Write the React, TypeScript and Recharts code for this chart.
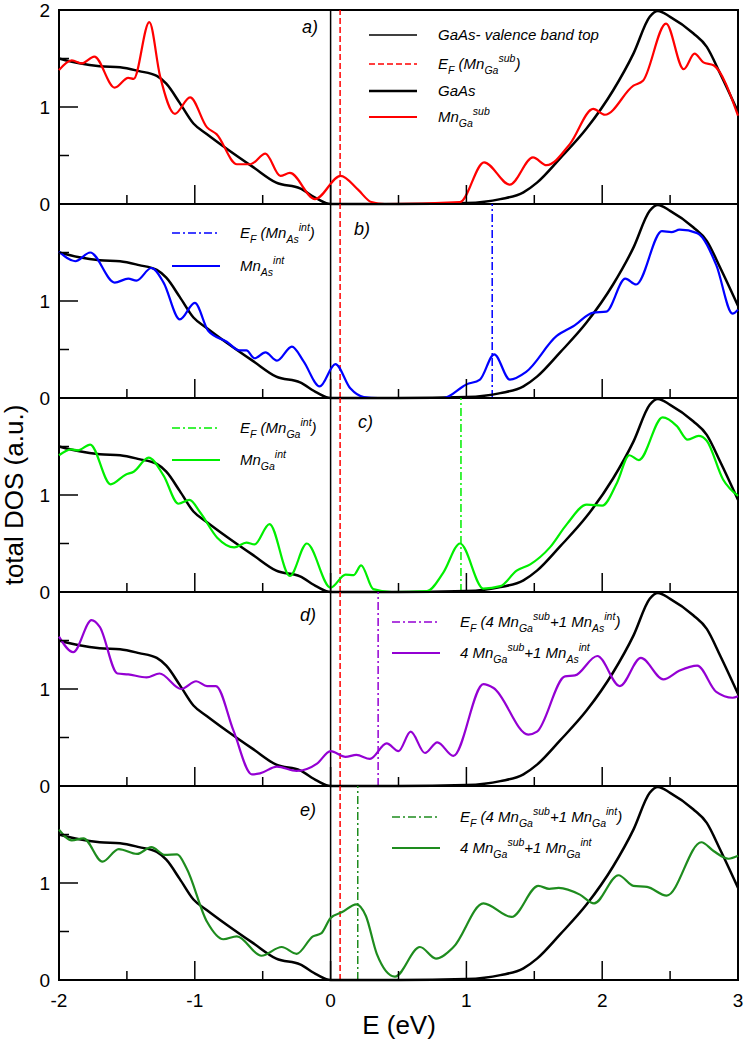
import React from 'react';
import { LineChart, Line, XAxis, YAxis, ReferenceLine, ReferenceArea } from 'recharts';

// energy grid (eV) and DOS
const gaasE = [-2.0, -1.85, -1.7, -1.55, -1.41, -1.28, -1.21, -1.11, -1.01, -0.91, -0.765, -0.57, -0.4, -0.225, -0.1, 0.0, 0.5, 1.0, 1.25, 1.42, 1.52, 1.69, 1.886, 2.08, 2.23, 2.35, 2.41, 2.5, 2.67, 2.77, 2.87, 3.0];
const gaasDos = [1.5, 1.45, 1.42, 1.41, 1.37, 1.32, 1.24, 1.04, 0.83, 0.72, 0.57, 0.38, 0.22, 0.16, 0.055, 0.0, 0.0, 0.01, 0.05, 0.12, 0.22, 0.47, 0.78, 1.17, 1.55, 1.93, 1.99, 1.93, 1.76, 1.62, 1.34, 0.95];

const mnGaSubE = [-2.0, -1.906, -1.83, -1.74, -1.59, -1.49, -1.45, -1.335, -1.256, -1.146, -1.035, -0.91, -0.84, -0.69, -0.59, -0.48, -0.37, -0.3, -0.115, 0.074, 0.2, 0.3, 0.4, 0.953, 1.13, 1.32, 1.49, 1.59, 1.763, 1.934, 2.02, 2.23, 2.3, 2.47, 2.6, 2.68, 2.745, 2.82, 3.0];
const mnGaSubDos = [1.38, 1.48, 1.45, 1.52, 1.2, 1.3, 1.29, 1.875, 1.32, 0.93, 1.1, 0.79, 0.72, 0.41, 0.41, 0.52, 0.29, 0.32, 0.05, 0.29, 0.15, 0.02, 0.0, 0.02, 0.43, 0.2, 0.48, 0.4, 0.62, 0.98, 0.92, 1.22, 1.27, 1.86, 1.39, 1.55, 1.46, 1.43, 0.91];

const mnAsIntE = [-2.0, -1.88, -1.77, -1.59, -1.49, -1.43, -1.32, -1.23, -1.11, -1.0, -0.9, -0.765, -0.67, -0.62, -0.56, -0.48, -0.395, -0.285, -0.2, -0.08, 0.035, 0.145, 0.245, 0.35, 0.83, 1.0, 1.1, 1.205, 1.32, 1.44, 1.665, 1.787, 1.934, 2.03, 2.17, 2.25, 2.44, 2.51, 2.57, 2.7, 2.84, 2.96, 3.0];
const mnAsIntDos = [1.51, 1.41, 1.5, 1.19, 1.23, 1.21, 1.34, 1.19, 0.81, 0.98, 0.69, 0.58, 0.49, 0.49, 0.41, 0.47, 0.385, 0.53, 0.38, 0.12, 0.35, 0.1, 0.01, 0.0, 0.0, 0.14, 0.19, 0.45, 0.19, 0.27, 0.64, 0.74, 0.88, 0.89, 1.23, 1.17, 1.72, 1.71, 1.735, 1.7, 1.37, 0.87, 0.91];

const mnGaIntE = [-2.0, -1.91, -1.86, -1.77, -1.62, -1.51, -1.45, -1.34, -1.23, -1.12, -1.04, -0.96, -0.835, -0.71, -0.62, -0.56, -0.45, -0.3, -0.175, 0.0, 0.11, 0.17, 0.225, 0.314, 0.45, 0.71, 0.83, 0.953, 1.125, 1.25, 1.37, 1.47, 1.615, 1.74, 1.886, 2.0, 2.11, 2.2, 2.27, 2.445, 2.55, 2.63, 2.71, 2.77, 2.89, 3.0];
const mnGaIntDos = [1.41, 1.47, 1.46, 1.52, 1.11, 1.21, 1.24, 1.385, 1.2, 0.91, 0.95, 0.82, 0.56, 0.46, 0.51, 0.49, 0.7, 0.165, 0.5, 0.045, 0.18, 0.175, 0.275, 0.03, 0.0, 0.01, 0.2, 0.5, 0.035, 0.06, 0.22, 0.285, 0.46, 0.7, 0.9, 0.89, 1.13, 1.41, 1.36, 1.8, 1.71, 1.57, 1.61, 1.56, 1.16, 0.99];

const mix4SubAsE = [-2.0, -1.895, -1.76, -1.7, -1.57, -1.49, -1.355, -1.26, -1.1, -0.99, -0.91, -0.845, -0.715, -0.58, -0.52, -0.395, -0.25, -0.1, 0.0, 0.11, 0.19, 0.29, 0.413, 0.5, 0.59, 0.695, 0.786, 0.904, 1.125, 1.2, 1.456, 1.52, 1.726, 1.8, 1.964, 2.13, 2.285, 2.45, 2.57, 2.7, 2.84, 2.96, 3.0];
const mix4SubAsDos = [1.54, 1.38, 1.71, 1.64, 1.16, 1.15, 1.12, 1.16, 1.0, 1.08, 1.03, 1.03, 0.57, 0.12, 0.13, 0.2, 0.155, 0.23, 0.36, 0.3, 0.32, 0.28, 0.44, 0.36, 0.56, 0.34, 0.45, 0.31, 1.05, 1.01, 0.53, 0.56, 1.13, 1.14, 1.34, 1.03, 1.32, 1.1, 1.19, 1.24, 0.97, 0.91, 0.925];

const mix4SubGaE = [-2.0, -1.906, -1.82, -1.68, -1.56, -1.425, -1.32, -1.22, -1.13, -1.06, -0.91, -0.79, -0.69, -0.51, -0.36, -0.25, -0.13, -0.07, 0.0, 0.085, 0.19, 0.26, 0.34, 0.474, 0.658, 0.776, 0.905, 1.125, 1.333, 1.53, 1.61, 1.68, 1.836, 1.94, 2.12, 2.23, 2.33, 2.475, 2.73, 2.82, 2.93, 3.0];
const mix4SubGaDos = [1.55, 1.44, 1.46, 1.22, 1.35, 1.3, 1.37, 1.29, 1.295, 1.15, 0.6, 0.42, 0.45, 0.25, 0.34, 0.27, 0.45, 0.48, 0.64, 0.7, 0.78, 0.66, 0.27, 0.035, 0.34, 0.22, 0.34, 0.79, 0.65, 0.97, 0.94, 0.95, 0.88, 0.79, 1.08, 0.97, 0.96, 0.87, 1.42, 1.33, 1.25, 1.28];

// Fermi levels (eV)
const efMnGaSub = 0.07;
const efMnAsInt = 1.19;
const efMnGaInt = 0.96;
const ef4SubAs = 0.35;
const ef4SubGa = 0.2;

const xTicks = [-2, -1.5, -1, -0.5, 0, 0.5, 1, 1.5, 2, 2.5, 3];
const yTicks = [0, 0.5, 1, 1.5, 2];

const RED = '#ff0000';
const BLUE = '#0000ff';
const LIME = '#00ee00';
const PURPLE = '#9400d3';
const DKGREEN = '#1e8c1e';
const FONT = '"Liberation Sans", Arial, Helvetica, sans-serif';

const zip = (es: number[], ds: number[]) => es.map((e, i) => ({ e, dos: ds[i] }));

const gaasPts = zip(gaasE, gaasDos);

const PLOT_TOP = [9.5, 203.5, 397.5, 591.5, 785.5];
const PLOT_H = 194;
const PAD = 15;
const BOTTOM_EXTRA = 60;

const YTick = (props: any) => {
  const { x, y, payload, showTop } = props;
  const v = payload.value;
  const major = Number.isInteger(v);
  const showLabel = major && (v < 2 || showTop);
  return (
    <g>
      <line x1={x} y1={y} x2={x + (major ? 19 : 10)} y2={y} stroke="#000" strokeWidth={1.5} />
      {showLabel && (
        <text x={x - 9} y={y + 7} textAnchor="end" fontSize={19} fontFamily={FONT} fill="#000">
          {v}
        </text>
      )}
    </g>
  );
};

const XTick = (props: any) => {
  const { x, y, payload, showLabels } = props;
  const v = payload.value;
  const major = Number.isInteger(v);
  return (
    <g>
      <line x1={x} y1={y} x2={x} y2={y - (major ? 19 : 9)} stroke="#000" strokeWidth={1.5} />
      {showLabels && major && (
        <text x={x} y={y + 27} textAnchor="middle" fontSize={19} fontFamily={FONT} fill="#000">
          {v}
        </text>
      )}
    </g>
  );
};

type PanelProps = {
  index: number;
  series: { e: number; dos: number }[];
  color: string;
  ef?: number;
};

const Panel = ({ index, series, color, ef }: PanelProps) => {
  const last = index === 4;
  const bottom = last ? BOTTOM_EXTRA : PAD;
  const height = PLOT_H + PAD + bottom;
  return (
    <div style={{ position: 'absolute', left: 0, top: PLOT_TOP[index] - PAD }}>
      <LineChart width={747} height={height} margin={{ top: PAD, right: 9, bottom: bottom - 1, left: 0 }}>
        <XAxis
          type="number"
          dataKey="e"
          domain={[-2, 3]}
          ticks={xTicks}
          interval={0}
          height={1}
          tickSize={0}
          tickMargin={0}
          tickLine={false}
          axisLine={false}
          tick={(p: any) => <XTick {...p} showLabels={last} />}
        />
        <YAxis
          type="number"
          domain={[0, 2]}
          ticks={yTicks}
          interval={0}
          width={59}
          tickSize={0}
          tickMargin={0}
          tickLine={false}
          axisLine={false}
          tick={(p: any) => <YTick {...p} showTop={index === 0} />}
        />
        <ReferenceArea x1={-2} x2={3} y1={0} y2={2} fill="none" fillOpacity={0} stroke="#000" strokeWidth={2} ifOverflow="visible" />
        <ReferenceLine x={0} stroke="#000" strokeWidth={1.5} />
        <ReferenceLine x={efMnGaSub} stroke={RED} strokeWidth={1.5} strokeDasharray="6 3" />
        {ef !== undefined && (
          <ReferenceLine x={ef} stroke={color} strokeWidth={1.5} strokeDasharray="8 3 2 3" />
        )}
        <Line data={gaasPts} dataKey="dos" type="monotone" stroke="#000" strokeWidth={2.5} dot={false} activeDot={false} isAnimationActive={false} />
        <Line data={series} dataKey="dos" type="monotone" stroke={color} strokeWidth={2.2} dot={false} activeDot={false} isAnimationActive={false} />
      </LineChart>
    </div>
  );
};

type Part = { t: string; k?: 'sub' | 'sup' };

const RichText = ({ x, y, parts }: { x: number; y: number; parts: Part[] }) => (
  <text x={x} y={y} fontSize={15} fontStyle="italic" fontFamily={FONT} fill="#000">
    {parts.map((p, i) => (
      <tspan key={i} y={p.k === 'sub' ? y + 5 : p.k === 'sup' ? y - 7 : y} fontSize={p.k ? 10.5 : 15}>
        {p.t}
      </tspan>
    ))}
  </text>
);

const LegendRow = ({ x1, x2, tx, y, stroke, width, dash, parts }: any) => (
  <g>
    <line x1={x1} x2={x2} y1={y} y2={y} stroke={stroke} strokeWidth={width} strokeDasharray={dash} />
    <RichText x={tx} y={y + 5} parts={parts} />
  </g>
);

const DASH = '6 3';
const DASHDOT = '8 3 2 3';

const Overlay = () => (
  <svg width={747} height={1044} style={{ position: 'absolute', left: 0, top: 0, pointerEvents: 'none' }}>
    {/* panel a legend */}
    <LegendRow x1={369} x2={417} tx={438} y={35} stroke="#000" width={1.5} parts={[{ t: 'GaAs- valence band top' }]} />
    <LegendRow x1={369} x2={417} tx={438} y={64} stroke={RED} width={1.5} dash={DASH}
      parts={[{ t: 'E' }, { t: 'F', k: 'sub' }, { t: ' (Mn' }, { t: 'Ga', k: 'sub' }, { t: 'sub', k: 'sup' }, { t: ')' }]} />
    <LegendRow x1={369} x2={417} tx={438} y={91} stroke="#000" width={2.5} parts={[{ t: 'GaAs' }]} />
    <LegendRow x1={369} x2={417} tx={438} y={117} stroke={RED} width={2.2}
      parts={[{ t: 'Mn' }, { t: 'Ga', k: 'sub' }, { t: 'sub', k: 'sup' }]} />

    {/* panel b legend */}
    <LegendRow x1={172} x2={220} tx={240} y={233} stroke={BLUE} width={1.5} dash={DASHDOT}
      parts={[{ t: 'E' }, { t: 'F', k: 'sub' }, { t: ' (Mn' }, { t: 'As', k: 'sub' }, { t: 'int', k: 'sup' }, { t: ')' }]} />
    <LegendRow x1={172} x2={220} tx={240} y={266} stroke={BLUE} width={2.2}
      parts={[{ t: 'Mn' }, { t: 'As', k: 'sub' }, { t: 'int', k: 'sup' }]} />

    {/* panel c legend */}
    <LegendRow x1={172} x2={220} tx={240} y={428} stroke={LIME} width={1.5} dash={DASHDOT}
      parts={[{ t: 'E' }, { t: 'F', k: 'sub' }, { t: ' (Mn' }, { t: 'Ga', k: 'sub' }, { t: 'int', k: 'sup' }, { t: ')' }]} />
    <LegendRow x1={172} x2={220} tx={240} y={460} stroke={LIME} width={2.2}
      parts={[{ t: 'Mn' }, { t: 'Ga', k: 'sub' }, { t: 'int', k: 'sup' }]} />

    {/* panel d legend */}
    <LegendRow x1={392} x2={440} tx={460} y={622} stroke={PURPLE} width={1.5} dash={DASHDOT}
      parts={[{ t: 'E' }, { t: 'F', k: 'sub' }, { t: ' (4 Mn' }, { t: 'Ga', k: 'sub' }, { t: 'sub', k: 'sup' }, { t: '+1 Mn' }, { t: 'As', k: 'sub' }, { t: 'int', k: 'sup' }, { t: ')' }]} />
    <LegendRow x1={392} x2={440} tx={460} y={653} stroke={PURPLE} width={2.2}
      parts={[{ t: '4 Mn' }, { t: 'Ga', k: 'sub' }, { t: 'sub', k: 'sup' }, { t: '+1 Mn' }, { t: 'As', k: 'sub' }, { t: 'int', k: 'sup' }]} />

    {/* panel e legend */}
    <LegendRow x1={392} x2={440} tx={460} y={817} stroke={DKGREEN} width={1.5} dash={DASHDOT}
      parts={[{ t: 'E' }, { t: 'F', k: 'sub' }, { t: ' (4 Mn' }, { t: 'Ga', k: 'sub' }, { t: 'sub', k: 'sup' }, { t: '+1 Mn' }, { t: 'Ga', k: 'sub' }, { t: 'int', k: 'sup' }, { t: ')' }]} />
    <LegendRow x1={392} x2={440} tx={460} y={848} stroke={DKGREEN} width={2.2}
      parts={[{ t: '4 Mn' }, { t: 'Ga', k: 'sub' }, { t: 'sub', k: 'sup' }, { t: '+1 Mn' }, { t: 'Ga', k: 'sub' }, { t: 'int', k: 'sup' }]} />

    {/* panel labels */}
    {[
      { t: 'a)', x: 302, y: 33 },
      { t: 'b)', x: 354, y: 235 },
      { t: 'c)', x: 358, y: 428 },
      { t: 'd)', x: 300, y: 621 },
      { t: 'e)', x: 300, y: 816 },
    ].map((l) => (
      <text key={l.t} x={l.x} y={l.y} fontSize={18} fontStyle="italic" fontFamily={FONT} fill="#000">
        {l.t}
      </text>
    ))}

    <text transform="translate(23,495) rotate(-90)" textAnchor="middle" fontSize={26} fontFamily={FONT} fill="#000">
      total DOS (a.u.)
    </text>
    <text x={399} y={1034} textAnchor="middle" fontSize={26} fontFamily={FONT} fill="#000">
      E (eV)
    </text>
  </svg>
);

export default function App() {
  return (
    <div style={{ position: 'absolute', left: 0, top: 0, width: 747, height: 1044, background: '#fff' }}>
      <Panel index={0} series={zip(mnGaSubE, mnGaSubDos)} color={RED} />
      <Panel index={1} series={zip(mnAsIntE, mnAsIntDos)} color={BLUE} ef={efMnAsInt} />
      <Panel index={2} series={zip(mnGaIntE, mnGaIntDos)} color={LIME} ef={efMnGaInt} />
      <Panel index={3} series={zip(mix4SubAsE, mix4SubAsDos)} color={PURPLE} ef={ef4SubAs} />
      <Panel index={4} series={zip(mix4SubGaE, mix4SubGaDos)} color={DKGREEN} ef={ef4SubGa} />
      <Overlay />
    </div>
  );
}
